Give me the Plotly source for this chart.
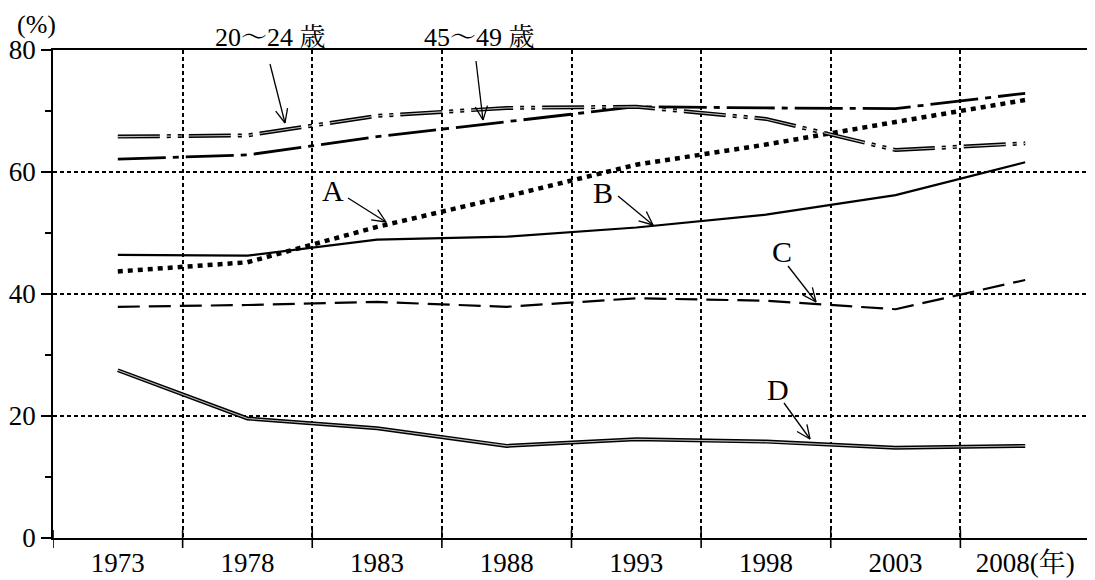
import math
import plotly.graph_objects as go

years = ["1973", "1978", "1983", "1988", "1993", "1998", "2003", "2008"]
year_labels = ["1973", "1978", "1983", "1988", "1993", "1998", "2003", "2008(年)"]
age_20_24 = [65.8, 66.0, 69.2, 70.5, 70.7, 68.7, 63.6, 64.7]
age_45_49 = [62.1, 62.8, 65.8, 68.2, 70.7, 70.5, 70.4, 72.9]
series_a = [43.7, 45.2, 51.0, 56.0, 61.2, 64.5, 68.2, 71.8]
series_b = [46.4, 46.3, 48.9, 49.4, 50.9, 53.0, 56.2, 61.6]
series_c = [37.9, 38.2, 38.7, 37.9, 39.3, 38.9, 37.5, 42.3]
series_d = [27.5, 19.6, 18.0, 15.1, 16.2, 15.8, 14.8, 15.1]
y_ticks = [0, 20, 40, 60, 80]

# page body has an 8px margin, so the figure is sized/offset accordingly
OFF = 8
W, H = 1095 - OFF, 580 - OFF
PX0, PX1, PY0, PY1 = 53, 1090, 50, 538  # plot area in screen pixels
L, T = PX0 - OFF, PY0 - OFF
R, B = W - (PX1 - OFF), H - (PY1 - OFF)
PW, PH = PX1 - PX0, PY1 - PY0
N = len(years)
xpos = list(range(N))

SERIF = "Liberation Serif, Noto Serif CJK JP, Noto Sans CJK JP, serif"

fig = go.Figure()


def add_line(y, width, dash, color="black", hollow=False):
    fig.add_trace(go.Scatter(x=xpos, y=y, mode="lines",
                             line=dict(color=color, width=width, dash=dash),
                             hoverinfo="skip", showlegend=False))
    if hollow:
        fig.add_trace(go.Scatter(x=xpos, y=y, mode="lines",
                                 line=dict(color="#bdbdbd", width=1.1, dash=dash),
                                 hoverinfo="skip", showlegend=False))


add_line(series_c, 2.2, "22px,9px")
add_line(series_b, 2.2, "solid")
add_line(series_a, 4.5, "5px,5px")
add_line(series_d, 4.0, "solid", hollow=True)
add_line(age_45_49, 2.8, "48px,7px,6px,7px")
add_line(age_20_24, 4.0, "42px,7px,4px,7px,4px,7px", hollow=True)


def px2x(px):
    return (px - PX0) / PW * N - 0.5


def py2y(py):
    return (PY1 - py) / PH * 80


def paper_x(px):
    return (px - PX0) / PW


def paper_y(py):
    return (PY1 - py) / PH


shapes = []

# x-axis tick marks crossing the axis line at category boundaries
for i in range(N + 1):
    shapes.append(dict(type="line", xref="x", yref="paper",
                       x0=i - 0.5, x1=i - 0.5, y0=-10 / PH, y1=8 / PH,
                       line=dict(color="black", width=1.6)))


def arrow(tail, tip, head=15, ang=24):
    (x0, y0), (x1, y1) = tail, tip
    shapes.append(dict(type="line", xref="x", yref="y",
                       x0=px2x(x0), y0=py2y(y0), x1=px2x(x1), y1=py2y(y1),
                       line=dict(color="black", width=1.3)))
    a = math.atan2(y0 - y1, x0 - x1)
    for s in (-1, 1):
        b = a + s * math.radians(ang)
        hx, hy = x1 + head * math.cos(b), y1 + head * math.sin(b)
        shapes.append(dict(type="line", xref="x", yref="y",
                           x0=px2x(x1), y0=py2y(y1), x1=px2x(hx), y1=py2y(hy),
                           line=dict(color="black", width=1.3)))


arrow((270, 64), (285, 123))
arrow((476, 61), (483, 120))
arrow((348, 198), (386, 222))
arrow((618, 196), (653, 225))
arrow((788, 266), (816, 302))
arrow((784, 403), (810, 439))

annotations = []


def label(text, px, py, size=26):
    annotations.append(dict(text=text, xref="paper", yref="paper",
                            x=paper_x(px), y=paper_y(py), showarrow=False,
                            xanchor="center", yanchor="middle",
                            font=dict(family=SERIF, size=size, color="black")))


label("20～24 歳", 270, 37, 26)
label("45～49 歳", 479, 37, 26)
label("A", 333, 191, 30)
label("B", 603, 192, 30)
label("C", 782, 251, 30)
label("D", 778, 389, 30)
label("(%)", 36, 25, 26)

fig.update_layout(
    width=W, height=H,
    margin=dict(l=L, r=R, t=T, b=B, autoexpand=False),
    paper_bgcolor="white", plot_bgcolor="white",
    shapes=shapes, annotations=annotations,
    showlegend=False,
)

fig.update_xaxes(
    range=[-0.5, N - 0.5], automargin=False,
    tickmode="array", tickvals=xpos, ticktext=year_labels,
    ticks="", showgrid=False, zeroline=False,
    tickfont=dict(family=SERIF, size=27, color="black"),
    showline=True, linecolor="black", linewidth=1.5, mirror=True,
    minor=dict(tickmode="array", tickvals=[i + 0.5 for i in range(0, N - 1)],
               ticks="", showgrid=True, gridcolor="black", gridwidth=1.5,
               griddash="4px,3px"),
)

fig.update_yaxes(
    range=[0, 80], automargin=False, tickmode="array", tickvals=y_ticks,
    ticks="outside", ticklen=10, tickwidth=1.5, tickcolor="black",
    showgrid=True, gridcolor="black", gridwidth=1.5, griddash="4px,3px",
    zeroline=False,
    tickfont=dict(family=SERIF, size=27, color="black"),
    showline=True, linecolor="black", linewidth=1.5, mirror=True,
    minor=dict(tickmode="array", tickvals=[10, 30, 50, 70],
               ticks="outside", ticklen=6, tickwidth=1.5, tickcolor="black",
               showgrid=False),
)

fig.write_html("out.html")
